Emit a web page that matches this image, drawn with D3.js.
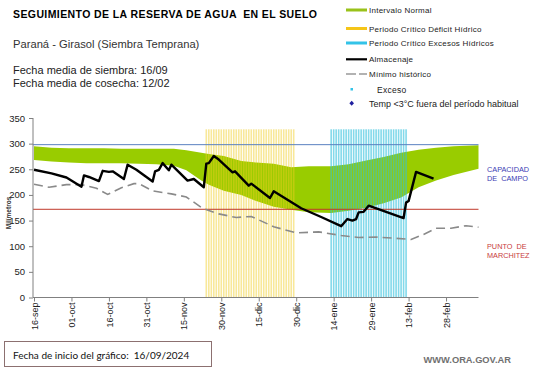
<!DOCTYPE html>
<html><head><meta charset="utf-8">
<script src="https://cdn.jsdelivr.net/npm/d3@7"></script>
<style>
html,body{margin:0;padding:0;background:#fff;}
svg{display:block;font-family:"Liberation Sans",Arial,sans-serif;}
</style></head>
<body><svg id="c" width="541" height="368"></svg>
<script>
// ---- data (days since 16/09/2024) ----
const tickDays = [0,15,30,45,60,75,90,105,120,135,150,165];
const tickLabels = ["16-sep","01-oct","16-oct","31-oct","15-nov","30-nov","15-dic","30-dic","14-ene","29-ene","13-feb","28-feb"];
const yTicks = [0,50,100,150,200,250,300,350];

const bandDays  = [0,7,14,21,28,35,42,49,56,61,67,70,76,83,89,96,103,110,119,126,133,140,147,154,161,168,178];
const bandUpper = [295,292,291,291,291,290,290,290,290,287,282,280,276,266,263,261,254,256,256,260,267,274,282,288,292,295,297];
const bandLower = [268,265,263,262,262,262,261,260,257,248,228,220,208,200,188,177,171,166,165,169,175,184,195,215,228,239,251];

const almDays = [0,7,13,19,20,22,26,27.5,30,31.5,36,37.5,41,47.5,48.5,50,51.5,54,55,61.5,64,68,69,70,72,74,79.5,80.5,86,87,94.5,96,107,115,123,125.5,127.5,129,130,132,134,148,149,150,153,160];
const almVals = [249,242,234,216,238,235,227,247,245,246,231,259,249,226,246,249,262,248,259,228,231,215,261,262,276,269,244,246,218,222,194,207,174,157,139,153,150,153,166,167,179,155,185,188,245,232];

const minDays = [0,6,13,19,25,29.5,35,40,42,47.5,55,61,64,67.5,74,81,87,96,105,114,123,130,137,149,151,156,161,167,173,178];
const minVals = [221,215,220,220,213,201,214,222,222,208,202,196,186,174,163,156,158,138,126,128,121,117,118,114,113,123,135,135,140,137];

const deficitPeriod = [69,104];
const excessPeriod = [119,149];
const periodBarValue = 328;
const capacidadCampo = 298;
const puntoMarchitez = 172;

// ---- scales ----
const svg = d3.select("#c");
const x = d3.scaleLinear().domain([0,178]).range([34,478.5]);
const y = d3.scaleLinear().domain([0,350]).range([297.5,118]);

// band
const band = bandDays.map((d,i)=>({d, u:bandUpper[i], l:bandLower[i]}));
svg.append("path").datum(band)
  .attr("d", d3.area().x(p=>x(p.d)).y0(p=>y(p.l)).y1(p=>y(p.u)))
  .attr("fill","#99cc00");

// critical period bars
function bars(period, color, op){
  const days = d3.range(period[0], period[1]+1);
  svg.append("g").selectAll("rect").data(days).join("rect")
    .attr("x", d=>x(d)-0.8).attr("width",1.6)
    .attr("y", y(periodBarValue)).attr("height", y(0)-y(periodBarValue))
    .attr("fill", color).attr("fill-opacity", op);
}
bars(deficitPeriod, "#f0cc20", 0.45);
bars(excessPeriod, "#30c0dc", 0.6);

// reference lines
svg.append("line").attr("x1",x(0)-1).attr("x2",x(178)).attr("y1",y(capacidadCampo)).attr("y2",y(capacidadCampo))
  .attr("stroke","#5a80c0").attr("stroke-width",1);
svg.append("line").attr("x1",x(0)-1).attr("x2",x(178)).attr("y1",y(puntoMarchitez)).attr("y2",y(puntoMarchitez))
  .attr("stroke","#c0392b").attr("stroke-width",1);

// min historico
svg.append("path").datum(minDays.map((d,i)=>[d,minVals[i]]))
  .attr("d", d3.line().x(p=>x(p[0])).y(p=>y(p[1])))
  .attr("fill","none").attr("stroke","#8a8a8a").attr("stroke-width",1.6).attr("stroke-dasharray","9,5");

// almacenaje
svg.append("path").datum(almDays.map((d,i)=>[d,almVals[i]]))
  .attr("d", d3.line().x(p=>x(p[0])).y(p=>y(p[1])))
  .attr("fill","none").attr("stroke","#000").attr("stroke-width",2.4).attr("stroke-linejoin","round");

// axes
const yAx = svg.append("g").attr("transform","translate(33,0)")
  .call(d3.axisLeft(y).tickValues(yTicks).tickSize(4).tickPadding(4).tickFormat(d3.format("d")));
yAx.select(".domain").attr("stroke","#808080").attr("d","M0,"+y(350)+"V"+y(0));
yAx.selectAll(".tick line").attr("stroke","#808080");
yAx.selectAll("text").attr("font-size","9.5px").attr("fill","#222").attr("font-family","Liberation Sans, Arial");

const xAx = svg.append("g").attr("transform","translate(0,"+y(0)+")")
  .call(d3.axisBottom(x).tickValues(tickDays).tickSize(4).tickFormat((d,i)=>tickLabels[i]));
xAx.select(".domain").attr("stroke","#808080").attr("d","M33,0H"+x(178));
xAx.selectAll(".tick line").attr("stroke","#808080");
xAx.selectAll("text").attr("font-size","9px").attr("fill","#222").attr("font-family","Liberation Sans, Arial")
  .attr("transform","rotate(-90)").attr("text-anchor","end").attr("x",-5).attr("y",0).attr("dy","0.35em");

// y label
svg.append("text").attr("transform","translate(11,213) rotate(-90)").attr("text-anchor","middle")
  .attr("font-size","6.5px").attr("font-weight","bold").attr("fill","#333").text("Milímetros");

// titles
svg.append("text").attr("x",13).attr("y",18).attr("font-weight","bold").attr("font-size","10.5px").attr("fill","#000")
  .attr("textLength",304).attr("lengthAdjust","spacing").style("white-space","pre")
  .text("SEGUIMIENTO DE LA RESERVA DE AGUA  EN EL SUELO");
svg.append("text").attr("x",13).attr("y",48).attr("font-size","11.2px").attr("fill","#333").text("Paraná - Girasol (Siembra Temprana)");
svg.append("text").attr("x",13).attr("y",74).attr("font-size","11px").attr("fill","#222").text("Fecha media de siembra: 16/09");
svg.append("text").attr("x",13).attr("y",87).attr("font-size","11px").attr("fill","#222").text("Fecha media de cosecha: 12/02");

// legend
const lg = svg.append("g").attr("font-size","8px").attr("fill","#222").attr("letter-spacing","0.25");
lg.append("rect").attr("x",346).attr("y",8.5).attr("width",21).attr("height",3).attr("fill","#99c21a");
lg.append("text").attr("x",369).attr("y",13.3).text("Intervalo Normal");
lg.append("rect").attr("x",346).attr("y",27).attr("width",21).attr("height",3).attr("fill","#f5c518");
lg.append("text").attr("x",369).attr("y",31.5).text("Periodo Crítico Déficit Hídrico");
lg.append("rect").attr("x",346).attr("y",41.5).attr("width",21).attr("height",3).attr("fill","#33c3e8");
lg.append("text").attr("x",369).attr("y",46).text("Periodo Crítico Excesos Hídricos");
lg.append("line").attr("x1",346).attr("x2",367).attr("y1",59.3).attr("y2",59.3).attr("stroke","#000").attr("stroke-width",2.2);
lg.append("text").attr("x",369).attr("y",62).text("Almacenaje");
lg.append("line").attr("x1",346).attr("x2",367).attr("y1",74).attr("y2",74).attr("stroke","#999").attr("stroke-width",1.6).attr("stroke-dasharray","10,3");
lg.append("text").attr("x",369).attr("y",77).text("Mínimo histórico");
lg.append("rect").attr("x",350.5).attr("y",88).attr("width",2.5).attr("height",2.5).attr("fill","#33c3e8");
lg.append("text").attr("x",377).attr("y",92.5).attr("font-size","8.5px").text("Exceso");
lg.append("path").attr("d","M351.7,100.8L354,103.3L351.7,105.8L349.4,103.3Z").attr("fill","#2020a0");
lg.append("text").attr("x",369).attr("y",106.5).attr("font-size","9px").attr("letter-spacing","0").text("Temp <3°C fuera del período habitual");

// right labels
const rl = svg.append("g").attr("font-size","7.3px");
rl.append("text").attr("x",487).attr("y",172.3).attr("fill","#3c3cb4").text("CAPACIDAD");
rl.append("text").attr("x",487).attr("y",180.8).attr("fill","#3c3cb4").style("white-space","pre").text("DE  CAMPO");
rl.append("text").attr("x",487).attr("y",249).attr("fill","#c83c3c").style("white-space","pre").text("PUNTO  DE");
rl.append("text").attr("x",487).attr("y",257.5).attr("fill","#c83c3c").text("MARCHITEZ");

// footer
svg.append("rect").attr("x",4.5).attr("y",341.5).attr("width",207).attr("height",25)
  .attr("fill","#fff").attr("stroke","#8c7070").attr("stroke-width",1);
svg.append("text").attr("x",13).attr("y",359).attr("font-family","Lato, sans-serif").attr("font-size","10px").attr("fill","#111")
  .style("white-space","pre").text("Fecha de inicio del gráfico:  16/09/2024");
svg.append("text").attr("x",423.5).attr("y",362.5).attr("font-weight","bold").attr("font-size","9.3px").attr("fill","#707070")
  .text("WWW.ORA.GOV.AR");
</script></body></html>
